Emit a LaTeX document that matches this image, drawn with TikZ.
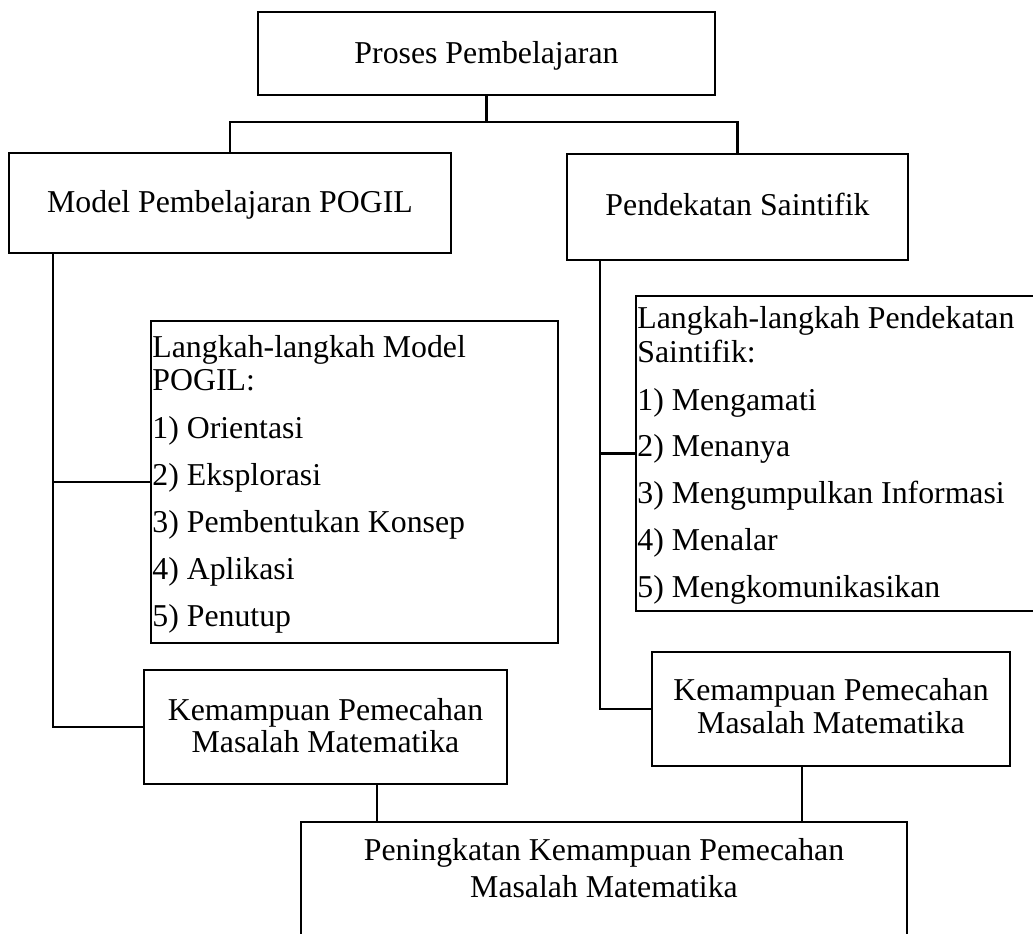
\documentclass[tikz,border=0pt]{standalone}
\usepackage{fontspec}
\setmainfont{Liberation Serif}
\begin{document}
\begin{tikzpicture}[x=0.5pt,y=-0.5pt,
  box/.style={draw, line width=1.45pt, inner sep=0pt},
  conn/.style={line width=1.35pt},
  thinconn/.style={line width=0.55pt},
  txt/.style={font=\fontsize{15.9}{16.5}\selectfont, inner sep=0pt},
  ctxt/.style={txt, anchor=base},
  ltxt/.style={txt, anchor=base west}]
\useasboundingbox (0,0) rectangle (1033,933);
\clip (0,0) rectangle (1033,933);
% boxes
\node[box, minimum width=228.5pt, minimum height=41.5pt] (top) at (486.5,53.5) {};
\node[box, minimum width=221pt, minimum height=50pt] (left) at (230,203) {};
\node[box, minimum width=170.5pt, minimum height=53pt] (right) at (737.5,207) {};
\node[box, minimum width=203.5pt, minimum height=161pt] (pogil) at (354.5,482) {};
\node[box, minimum width=204.5pt, minimum height=157.5pt] (saint) at (840.5,453.5) {};
\node[box, minimum width=181.5pt, minimum height=57pt] (kemL) at (325.5,727) {};
\node[box, minimum width=179pt, minimum height=57pt] (kemR) at (831,709) {};
\node[box, minimum width=303pt, minimum height=64pt] (bottom) at (604,886) {};
% texts
\node[ctxt] (ttop) at (486.5,63) {Proses Pembelajaran};
\node[ctxt] (tleft) at (230,212) {Model Pembelajaran POGIL};
\node[ctxt] (tright) at (737.5,215) {Pendekatan Saintifik};
\node[ltxt] (p1) at (152,357) {Langkah-langkah Model};
\node[ltxt] (p2) at (152,390) {POGIL:};
\node[ltxt] (p3) at (152,438) {1) Orientasi};
\node[ltxt] (p4) at (152,485) {2) Eksplorasi};
\node[ltxt] (p5) at (152,532) {3) Pembentukan Konsep};
\node[ltxt] (p6) at (152,579) {4) Aplikasi};
\node[ltxt] (p7) at (152,626) {5) Penutup};
\node[ltxt] (s1) at (637,328) {Langkah-langkah Pendekatan};
\node[ltxt] (s2) at (637,362) {Saintifik:};
\node[ltxt] (s3) at (637,410) {1) Mengamati};
\node[ltxt] (s4) at (637,456) {2) Menanya};
\node[ltxt] (s5) at (637,503) {3) Mengumpulkan Informasi};
\node[ltxt] (s6) at (637,550) {4) Menalar};
\node[ltxt] (s7) at (637,597) {5) Mengkomunikasikan};
\node[ctxt] (kl1) at (325.5,720) {Kemampuan Pemecahan};
\node[ctxt] (kl2) at (325.5,752) {Masalah Matematika};
\node[ctxt] (kr1) at (831,700) {Kemampuan Pemecahan};
\node[ctxt] (kr2) at (831,733) {Masalah Matematika};
\node[ctxt] (b1) at (604,860) {Peningkatan Kemampuan Pemecahan};
\node[ctxt] (b2) at (604,897) {Masalah Matematika};
% connectors
\coordinate (j) at (486.5,122);
\draw[conn] (top.south) -- (j);
\draw[conn] (j) -| (left.north);
\draw[conn] (j) -| (right.north);
\coordinate (la) at (53,253);
\coordinate (lb) at (53,727);
\coordinate (lc) at (53,482);
\draw[conn] (la) -- (lb) -- (kemL.west);
\draw[conn] (lc) -- (pogil.west);
\coordinate (ra) at (600,260);
\coordinate (rb) at (600,709);
\coordinate (rc) at (600,453.5);
\draw[conn] (ra) -- (rb) -- (kemR.west);
\draw[conn] (rc) -- (saint.west);
\coordinate (t1) at (377,784);
\coordinate (t2) at (802,766);
\draw[thinconn] (t1) -- (t1 |- bottom.north);
\draw[thinconn] (t2) -- (t2 |- bottom.north);
\end{tikzpicture}
\end{document}
